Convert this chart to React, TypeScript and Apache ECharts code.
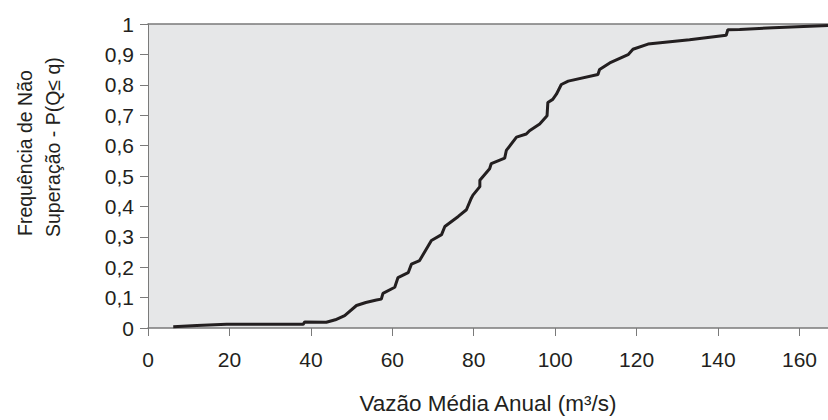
import React, { useEffect, useRef } from "react";
import * as echarts from "echarts";

const flowValues: number[] = [
  6.2, 12, 19.3, 38.1, 38.5, 43.8, 46.0, 48.3, 51.2, 53.5, 56.1, 57.3, 57.7, 60.6, 61.4, 63.9,
  64.7, 66.7, 69.6, 72.1, 72.9, 76.2, 78.2, 79.4, 79.8, 81.5, 81.5, 83.9, 84.3, 87.6, 88.0,
  90.5, 92.9, 93.7, 96.2, 98.0, 98.2, 99.4, 100.3, 101.5, 103.2, 110.5, 110.9, 113.4, 117.9,
  119.1, 122.8, 133.0, 142.0, 142.4, 145.3, 153.5, 167,
];
const probValues: number[] = [
  0.004, 0.008, 0.012, 0.012, 0.02, 0.019, 0.027, 0.041, 0.074, 0.084, 0.092, 0.095, 0.114, 0.134,
  0.166, 0.182, 0.21, 0.222, 0.288, 0.307, 0.334, 0.367, 0.389, 0.427, 0.437, 0.465, 0.486,
  0.524, 0.541, 0.559, 0.584, 0.628, 0.638, 0.649, 0.671, 0.698, 0.742, 0.752, 0.769, 0.801,
  0.812, 0.834, 0.85, 0.872, 0.899, 0.917, 0.934, 0.948, 0.963, 0.981, 0.982, 0.988, 0.995,
];
const xTickValues: number[] = [0, 20, 40, 60, 80, 100, 120, 140, 160];
const yTickLabels: string[] = ["0", "0,1", "0,2", "0,3", "0,4", "0,5", "0,6", "0,7", "0,8", "0,9", "1"];

const xTitle = "Vazão Média Anual (m³/s)";
const yTitleLine1 = "Frequência de Não";
const yTitleLine2 = "Superação - P(Q≤ q)";

export default function App() {
  const ref = useRef<HTMLDivElement>(null);
  useEffect(() => {
    if (!ref.current) return;
    const chart = echarts.init(ref.current, undefined, { renderer: "svg" });
    const font = "Liberation Sans, Arial, Helvetica, sans-serif";
    const axisColor = "#7a7a7a";
    const textColor = "#231f20";
    chart.setOption({
      animation: false,
      backgroundColor: "#ffffff",
      grid: {
        left: 148,
        right: 0,
        top: 24,
        bottom: 89,
        show: true,
        backgroundColor: "#e6e7e8",
        borderWidth: 0,
      },
      xAxis: [
        {
          type: "value",
          min: 0,
          max: 167,
          interval: 20,
          splitLine: { show: false },
          axisLine: { show: true, lineStyle: { color: axisColor, width: 1.5 } },
          axisTick: { show: true, length: 8, customValues: xTickValues, lineStyle: { color: axisColor, width: 1 } },
          axisLabel: {
            customValues: xTickValues,
            margin: 21,
            fontSize: 21,
            fontFamily: font,
            color: textColor,
          },
          name: xTitle,
          nameLocation: "middle",
          nameGap: 64,
          nameTextStyle: { fontSize: 22.5, fontFamily: font, color: textColor },
        },
        {
          type: "value",
          position: "top",
          min: 0,
          max: 167,
          axisLine: { show: true, onZero: false, lineStyle: { color: axisColor, width: 1.5 } },
          axisTick: { show: false },
          axisLabel: { show: false },
          splitLine: { show: false },
        },
      ],
      yAxis: {
        type: "value",
        min: 0,
        max: 1,
        interval: 0.1,
        splitLine: { show: false },
        axisLine: { show: true, lineStyle: { color: axisColor, width: 1 } },
        axisTick: { show: true, length: 8, lineStyle: { color: axisColor, width: 1 } },
        axisLabel: {
          margin: 14,
          fontSize: 21,
          fontFamily: font,
          color: textColor,
          formatter: (v: number) => yTickLabels[Math.round(v * 10)] ?? "",
        },
      },
      graphic: [
        {
          type: "text",
          x: 25,
          y: 236,
          rotation: Math.PI / 2,
          style: {
            text: yTitleLine1,
            fontSize: 19.5,
            fontFamily: font,
            fill: textColor,
            textAlign: "left",
            textVerticalAlign: "middle",
          },
        },
        {
          type: "text",
          x: 53,
          y: 237,
          rotation: Math.PI / 2,
          style: {
            text: yTitleLine2,
            fontSize: 19.5,
            fontFamily: font,
            fill: textColor,
            textAlign: "left",
            textVerticalAlign: "middle",
          },
        },
      ],
      series: [
        {
          type: "line",
          data: flowValues.map((q, i) => [q, probValues[i]]),
          showSymbol: false,
          symbol: "none",
          lineStyle: { color: textColor, width: 3 },
          clip: true,
        },
      ],
    });
    return () => chart.dispose();
  }, []);
  return <div ref={ref} style={{ width: 828, height: 420, position: "absolute", left: 0, top: 0 }} />;
}
